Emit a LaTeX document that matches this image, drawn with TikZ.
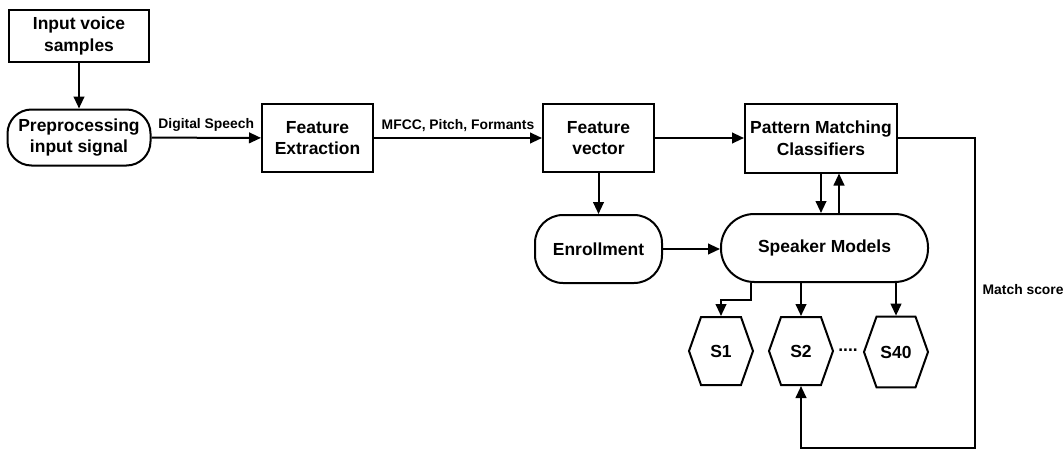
\documentclass[tikz,border=0pt]{standalone}
\usepackage{fontspec}
\setmainfont{Liberation Sans}
\usetikzlibrary{calc, positioning}
\usetikzlibrary{arrows.meta}
\usetikzlibrary{shapes.symbols}

\tikzset{
  box/.style={draw, line width=1.5pt, align=center, inner sep=0pt,
    font=\fontsize{13.1}{16.3}\selectfont\bfseries},
  roundbox/.style={box, rounded corners=#1},
  hexbox/.style={box, signal, signal to=west and east, signal pointer angle=141,
    minimum width=48pt, minimum height=51pt},
  arr/.style={-{Triangle[length=9pt, width=8pt]}, line width=1.5pt},
  lbl/.style={font=\fontsize{10.4}{12}\selectfont\bfseries, inner sep=4pt},
}

\begin{document}
\begin{tikzpicture}[x=0.75pt, y=-0.75pt]
\useasboundingbox (0,0) rectangle (1064,450);
% main row
\node[box, minimum width=105pt, minimum height=39pt] (input) at (79,36) {Input voice\\samples};
\node[roundbox=18pt, minimum width=107.25pt, minimum height=42pt] (prep) at (79,137.5) {Preprocessing\\input signal};
\node[box, minimum width=83.25pt, minimum height=51pt] (featx) at (317.5,138) {Feature\\Extraction};
\node[box, minimum width=83.25pt, minimum height=51pt] (featv) at (598.5,138) {Feature\\vector};
\node[box, minimum width=114pt, minimum height=51.75pt] (pattern) at (821,138) {Pattern Matching\\Classifiers};
% second row
\node[roundbox=21pt, minimum width=95.25pt, minimum height=51pt] (enroll) at (598.5,249) {Enrollment};
\node[roundbox=25pt, minimum width=155.25pt, minimum height=51pt] (spk) at (824.5,248) {Speaker Models};
% speakers
\node[hexbox] (s1) at (721,351) {S1};
\node[hexbox] (s2) at (801,351) {S2};
\node[hexbox, minimum height=53pt] (s40) at (896,352) {S40};
\node[box, draw=none, inner sep=0pt] (dots) at (848,350) {....};

\draw[arr] (input) -- (prep);
\draw[arr] (prep) -- node[lbl, above] {Digital Speech} (featx);
\draw[arr] (featx) -- node[lbl, above] {MFCC, Pitch, Formants} (featv);
\draw[arr] (featv) -- (pattern);
\draw[arr] (featv) -- (enroll);
\draw[arr] (enroll.east) -- (spk.west |- enroll.east);
\draw[arr] (pattern.south) -- (pattern.south |- spk.north);
\draw[arr] ([xshift=13.5pt]pattern.south |- spk.north) -- ([xshift=13.5pt]pattern.south);
\draw[arr] ([xshift=-55pt]spk.south) -- ++(0,17) -| (s1.north);
\draw[arr] (spk.south -| s2.north) -- (s2.north);
\draw[arr] (spk.south -| s40.north) -- (s40.north);
% match score loop
\coordinate (m1) at (975,138);
\coordinate (m2) at (975,448);
\coordinate (m3) at (801,448);
\draw[arr] (pattern.east) -- (m1) -- node[lbl, right, pos=0.49, inner sep=5pt] {Match score} (m2) -- (m3) -- (s2.south);
\end{tikzpicture}
\end{document}
